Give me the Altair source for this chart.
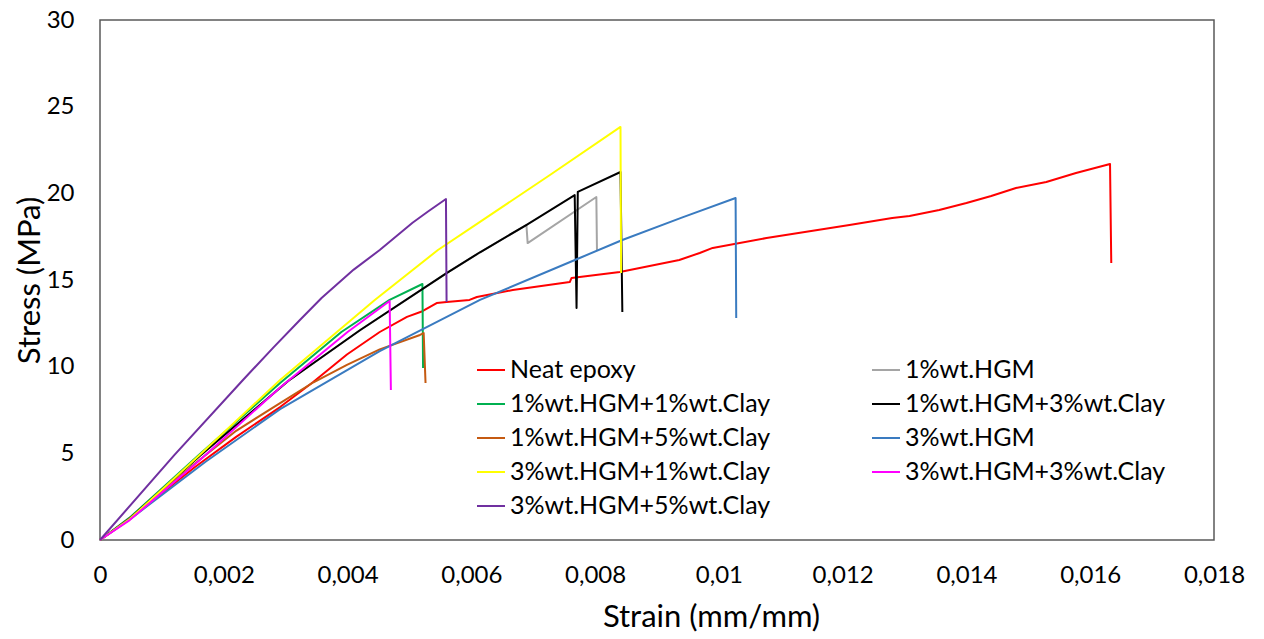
import altair as alt
import pandas as pd

# ---- data (strain mm/mm, stress MPa) ----
SERIES = [
    "Neat epoxy", "1%wt.HGM+1%wt.Clay", "1%wt.HGM+5%wt.Clay",
    "3%wt.HGM+1%wt.Clay", "3%wt.HGM+5%wt.Clay",
    "1%wt.HGM", "1%wt.HGM+3%wt.Clay", "3%wt.HGM", "3%wt.HGM+3%wt.Clay",
]
COLORS = ["#FF0000", "#00B050", "#C55A11", "#FFFF00", "#7030A0",
          "#A5A5A5", "#000000", "#3A7BC0", "#FF00FF"]

neat_strain = [0, 0.0005, 0.001, 0.00153, 0.0022, 0.00291, 0.00344, 0.00399, 0.00452, 0.00496,
               0.00521, 0.00544, 0.0056, 0.00597, 0.00609, 0.00667, 0.00759, 0.00762, 0.0084,
               0.00936, 0.00969, 0.0099, 0.01077, 0.01211, 0.0128, 0.01308, 0.01356,
               0.014, 0.0144, 0.0148, 0.01529, 0.01577, 0.01632, 0.01634]
neat_stress = [0, 1.25, 2.7, 4.2, 5.95, 7.67, 9.1, 10.7, 12.0, 12.87,
               13.2, 13.67, 13.73, 13.85, 14.02, 14.42, 14.88, 15.12, 15.46,
               16.15, 16.56, 16.85, 17.42, 18.17, 18.58, 18.69, 19.04,
               19.44, 19.85, 20.31, 20.65, 21.17, 21.69, 15.98]

hgm1_strain = [0, 0.0005, 0.00161, 0.00304, 0.0042, 0.0056, 0.00614, 0.00689, 0.00691, 0.00802, 0.00803]
hgm1_stress = [0, 1.3, 4.85, 9.17, 12.1, 15.4, 16.6, 18.17, 17.13, 19.79, 16.73]

h1c1_strain = [0, 0.0005, 0.00161, 0.00291, 0.0039, 0.00468, 0.00521, 0.00522]
h1c1_stress = [0, 1.35, 4.95, 9.06, 12.0, 13.85, 14.77, 9.92]

h1c3_strain = [0, 0.0005, 0.00161, 0.00304, 0.0042, 0.0056, 0.00614, 0.0069, 0.00767, 0.0077,
               0.00772, 0.00841, 0.00844]
h1c3_stress = [0, 1.3, 4.85, 9.17, 12.1, 15.4, 16.6, 18.2, 19.9, 13.38,
               20.08, 21.23, 13.15]

h1c5_strain = [0, 0.0005, 0.00153, 0.0022, 0.00291, 0.00345, 0.00399, 0.00452, 0.00517, 0.00523, 0.00526]
h1c5_stress = [0, 1.3, 4.4, 6.3, 7.9, 9.1, 10.1, 11.0, 11.83, 11.94, 9.06]

hgm3_strain = [0, 0.00054, 0.0017, 0.00291, 0.00452, 0.00614, 0.00775, 0.00844, 0.0094, 0.01027, 0.01028]
hgm3_stress = [0, 1.35, 4.5, 7.55, 10.9, 13.85, 16.27, 17.31, 18.6, 19.73, 12.81]

h3c1_strain = [0, 0.00048, 0.00161, 0.00291, 0.00444, 0.00546, 0.00614, 0.00727, 0.00841, 0.00842]
h3c1_stress = [0, 1.2, 4.9, 9.23, 13.85, 16.73, 18.35, 21.06, 23.83, 15.4]

h3c3_strain = [0, 0.00048, 0.00161, 0.00291, 0.004, 0.00468, 0.0047]
h3c3_stress = [0, 1.15, 4.6, 8.8, 12.0, 13.79, 8.66]

h3c5_strain = [0, 0.0012, 0.00231, 0.0028, 0.00323, 0.00358, 0.0041, 0.00452, 0.00505, 0.0053, 0.00559, 0.0056]
h3c5_stress = [0, 4.9, 9.23, 11.1, 12.69, 13.96, 15.6, 16.73, 18.3, 18.95, 19.67, 13.73]

X_TICKS = [0, 0.002, 0.004, 0.006, 0.008, 0.01, 0.012, 0.014, 0.016, 0.018]
Y_TICKS = [0, 5, 10, 15, 20, 25, 30]

pairs = {
    "Neat epoxy": (neat_strain, neat_stress),
    "1%wt.HGM": (hgm1_strain, hgm1_stress),
    "1%wt.HGM+1%wt.Clay": (h1c1_strain, h1c1_stress),
    "1%wt.HGM+3%wt.Clay": (h1c3_strain, h1c3_stress),
    "1%wt.HGM+5%wt.Clay": (h1c5_strain, h1c5_stress),
    "3%wt.HGM": (hgm3_strain, hgm3_stress),
    "3%wt.HGM+1%wt.Clay": (h3c1_strain, h3c1_stress),
    "3%wt.HGM+3%wt.Clay": (h3c3_strain, h3c3_stress),
    "3%wt.HGM+5%wt.Clay": (h3c5_strain, h3c5_stress),
}
rows = []
for name, (xs, ys) in pairs.items():
    for i, (x, y) in enumerate(zip(xs, ys)):
        rows.append({"series": name, "strain": x, "stress": y, "idx": i})
df = pd.DataFrame(rows)

FONT = "Lato"

chart = alt.Chart(df).mark_line(strokeWidth=2, strokeJoin="round").encode(
    x=alt.X("strain:Q", scale=alt.Scale(domain=[0, 0.018], nice=False, zero=True),
            axis=alt.Axis(values=X_TICKS, title="Strain (mm/mm)", labelFlush=False,
                          labelExpr="replace(format(datum.value, '~g'), '.', ',')",
                          titleX=611, titleY=77, titleBaseline="middle")),
    y=alt.Y("stress:Q", scale=alt.Scale(domain=[0, 30], nice=False),
            axis=alt.Axis(values=Y_TICKS, title="Stress (MPa)", labelFlush=False,
                          titleX=-70, titleY=260, titleAngle=-90, titleBaseline="middle")),
    color=alt.Color("series:N", scale=alt.Scale(domain=SERIES, range=COLORS),
                    legend=alt.Legend(title=None, orient="none", legendX=376, legendY=335,
                                      columns=2, columnPadding=97, rowPadding=6,
                                      symbolType="stroke", symbolSize=784,
                                      symbolStrokeWidth=2, labelOffset=4,
                                      labelFontSize=25, labelFont=FONT,
                                      labelColor="#000000", labelLimit=500)),
    order=alt.Order("idx:Q"),
    detail="series:N",
).properties(
    width=1114, height=520,
    autosize=alt.AutoSizeParams(type="none"),
    padding={"left": 92, "top": 12, "right": 40, "bottom": 96},
).configure_view(
    stroke="#595959", strokeWidth=1.5
).configure_axis(
    grid=False, domain=False, ticks=False,
    labelFont=FONT, labelFontSize=24, labelColor="#000000",
    titleFont=FONT, titleFontSize=31, titleColor="#000000", titleFontWeight="normal",
).configure_axisY(labelPadding=26).configure_axisX(labelPadding=23)

chart.save("out.html", embed_options={"renderer": "svg", "actions": False})
